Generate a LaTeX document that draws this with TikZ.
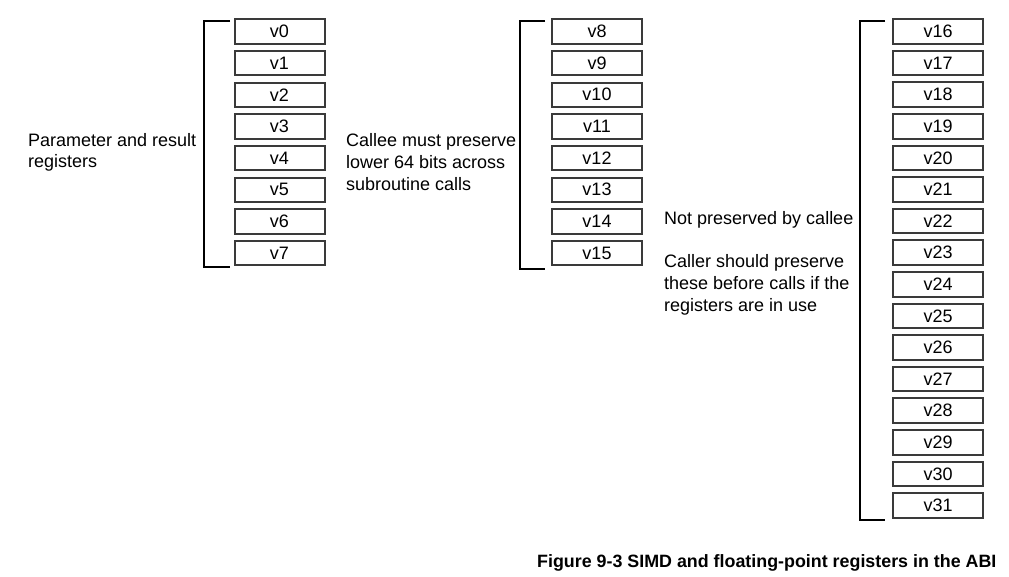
\documentclass[tikz,border=0pt]{standalone}
\usepackage{fontspec}
\setmainfont{Liberation Sans}
\definecolor{boxline}{HTML}{3A3A3A}
\tikzset{
  reg/.style={draw=boxline, line width=2pt, minimum width=90pt, minimum height=24.5pt, inner sep=0pt, font=\fontsize{18}{21}\selectfont},
  brk/.style={draw=black, line width=2pt},
  lbl/.style={anchor=base west, inner sep=0pt, font=\fontsize{18}{21}\selectfont},
  captxt/.style={anchor=base west, inner sep=0pt, font=\fontsize{17.85}{21}\selectfont\bfseries}
}
\begin{document}
\begin{tikzpicture}[x=1pt,y=-1pt]
\useasboundingbox (0,0) rectangle (1009,576);
% column 1
\foreach \i in {0,...,7} {
  \node[reg] (r\i) at (279.5, 31.5+31.65*\i) {v\i};
}
% column 2
\foreach \i in {8,...,15} {
  \node[reg] (r\i) at (597, 31.5+31.65*\i-31.65*8) {v\i};
}
% column 3
\foreach \i in {16,...,31} {
  \node[reg] (r\i) at (938, 31.5+31.6*\i-31.6*16) {v\i};
}
% brackets
\coordinate (a1) at (230,20.5);
\coordinate (a2) at (203.5,20.5);
\coordinate (a3) at (203.5,267);
\coordinate (a4) at (230,267);
\draw[brk] (a1) -- (a2) -- (a3) -- (a4);
\coordinate (b1) at (545,20.5);
\coordinate (b2) at (520,20.5);
\coordinate (b3) at (520,268.5);
\coordinate (b4) at (545,268.5);
\draw[brk] (b1) -- (b2) -- (b3) -- (b4);
\coordinate (c1) at (885,20.5);
\coordinate (c2) at (859.5,20.5);
\coordinate (c3) at (859.5,519.5);
\coordinate (c4) at (885,519.5);
\draw[brk] (c1) -- (c2) -- (c3) -- (c4);
% labels
\node[lbl] (t1a) at (28,146) {Parameter and result};
\node[lbl] (t1b) at (28,167) {registers};
\node[lbl] (t2a) at (346,146) {Callee must preserve};
\node[lbl] (t2b) at (346,168) {lower 64 bits across};
\node[lbl] (t2c) at (346,190) {subroutine calls};
\node[lbl] (t3a) at (664,224) {Not preserved by callee};
\node[lbl] (t3b) at (664,267) {Caller should preserve};
\node[lbl] (t3c) at (664,289) {these before calls if the};
\node[lbl] (t3d) at (664,311) {registers are in use};
\node[captxt] (capt) at (537,567) {Figure 9-3 SIMD and floating-point registers in the ABI};
\end{tikzpicture}
\end{document}
